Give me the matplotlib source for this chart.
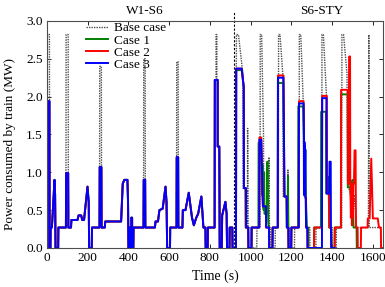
import matplotlib
matplotlib.use('Agg')
import matplotlib.pyplot as plt
from matplotlib.ticker import FormatStrFormatter

plt.rcParams['font.family'] = ['Liberation Serif', 'DejaVu Serif']

# ---------------- data (time in s, power in MW) ----------------
# W1-S6 section: all three cases coincide; base case differs only at the peaks
w1_time = [0, 2, 2, 12, 13, 17, 18, 24, 28, 37, 40, 42, 55, 56, 93, 94, 104, 105,
           118, 120, 150, 155, 168, 173, 182, 199, 205, 207, 220, 221, 258, 259, 267,
           268, 284, 286, 364, 372, 380, 395, 398, 400, 404, 404, 408, 408, 414, 414,
           418, 418, 424, 425, 474, 475, 482, 483, 530, 533, 545, 552, 568, 582, 587,
           590, 604, 605, 636, 637, 644, 645, 665, 667, 680, 696, 712, 721, 733, 742,
           758, 768, 778, 779, 789, 790, 823, 824, 830, 830, 834, 834, 838, 838, 846,
           848, 858, 860, 876, 882, 884, 896, 897, 910, 911]
w1_cases = [0, 0, 1.94, 1.94, 0, 0, 0.27, 0.27, 0.45, 0.90, 0.70, 0, 0, 0.27, 0.27, 0.99, 0.99, 0.27,
            0.27, 0.37, 0.37, 0.43, 0.43, 0.37, 0.37, 0.81, 0.60, 0, 0, 0.27, 0.27, 1.07, 1.07,
            0.27, 0.27, 0.35, 0.35, 0.85, 0.90, 0.90, 0.60, 0, 0, 0.27, 0.27, 0, 0, 0.40,
            0.40, 0, 0, 0.27, 0.27, 0.90, 0.90, 0.27, 0.27, 0.35, 0.35, 0.50, 0.52, 0.81, 0.60,
            0, 0, 0.27, 0.27, 1.20, 1.20, 0.27, 0.27, 0.50, 0.50, 0.73, 0.40, 0.30, 0.40, 0.45,
            0.68, 0.27, 0.27, 0, 0, 0.27, 0.27, 2.22, 2.22, 2.22, 2.22, 2.22, 2.22, 1.34, 1.34,
            0, 0, 0.43, 0.61, 0.45, 0, 0, 0.27, 0.27, 0]
w1_base = [0, 0, 2.82, 2.82, 0, 0, 0.27, 0.27, 0.45, 0.90, 0.70, 0, 0, 0.27, 0.27, 2.82, 2.82, 0.27,
           0.27, 0.37, 0.37, 0.43, 0.43, 0.37, 0.37, 0.81, 0.60, 0, 0, 0.27, 0.27, 2.40, 2.40,
           0.27, 0.27, 0.35, 0.35, 0.85, 0.90, 0.90, 0.60, 0, 0, 0.27, 0.27, 0, 0, 0.40,
           0.40, 0, 0, 0.27, 0.27, 2.50, 2.50, 0.27, 0.27, 0.35, 0.35, 0.50, 0.52, 0.81, 0.60,
           0, 0, 0.27, 0.27, 2.46, 2.46, 0.27, 0.27, 0.50, 0.50, 0.73, 0.40, 0.30, 0.40, 0.45,
           0.68, 0.27, 0.27, 0, 0, 0.27, 0.27, 2.22, 2.22, 2.82, 2.82, 2.22, 2.22, 1.34, 1.34,
           0, 0, 0.43, 0.61, 0.45, 0, 0, 0.27, 0.27, 0]

# S6-STY section
base_s6_time = [928, 930, 940, 962, 963, 975, 976, 984, 985, 987, 1002, 1003, 1030, 1031,
                1046, 1047, 1054, 1063, 1064, 1075, 1076, 1088, 1090, 1092, 1098, 1099, 1120,
                1121, 1136, 1137, 1144, 1158, 1160, 1176, 1177, 1181, 1183, 1185, 1190, 1191,
                1215, 1216, 1238, 1239, 1246, 1258, 1260, 1270, 1276, 1290, 1291, 1320, 1321,
                1349, 1350, 1357, 1372, 1374, 1385, 1386, 1400, 1401, 1420, 1421, 1447, 1448,
                1456, 1473, 1475, 1490, 1500, 1510, 1520, 1578, 1580, 1582, 1639, 1640, 1650]
base_s6_power = [0, 2.82, 2.82, 2.30, 0.79, 0.79, 0.27, 0.27, 1.58, 0.27, 0.27, 0, 0, 0.27,
                 0.27, 2.82, 2.82, 1.50, 0.55, 0.55, 0.27, 0.27, 1.20, 0.27, 0.27, 0, 0,
                 0.27, 0.27, 2.82, 2.82, 2.28, 0.68, 0.68, 0.27, 0.27, 1.03, 0.27, 0.27, 0,
                 0, 0.27, 0.27, 2.82, 2.82, 1.94, 0.70, 0.66, 0.27, 0.27, 0, 0, 0.27,
                 0.27, 2.82, 2.82, 2.01, 0.72, 0.72, 0.27, 0.27, 0, 0, 0.27, 0.27, 2.82,
                 2.82, 2.30, 0.88, 0.70, 0.30, 0.70, 0.27, 0.27, 2.82, 0.27, 0.27, 0, 0]

case1_s6_time = [928, 929, 956, 966, 967, 975, 976, 988, 989, 1004, 1005, 1038, 1039, 1050,
                 1056, 1058, 1060, 1064, 1066, 1068, 1080, 1082, 1086, 1090, 1091, 1107, 1108,
                 1133, 1134, 1160, 1165, 1176, 1177, 1181, 1183, 1186, 1199, 1200, 1233, 1234,
                 1258, 1261, 1265, 1268, 1271, 1276, 1283, 1284, 1311, 1312, 1345, 1346, 1370,
                 1371, 1380, 1382, 1386, 1395, 1396, 1412, 1413, 1443, 1444, 1476, 1477, 1490,
                 1495, 1500, 1505, 1520, 1521, 1535]
case1_s6_power = [0, 2.35, 2.35, 2.12, 0.79, 0.79, 0.27, 0.27, 0, 0, 0.27, 0.27, 1.39, 1.39,
                  0.70, 1.10, 0.60, 0.50, 1.00, 0.45, 0.45, 1.14, 0.35, 0.27, 0, 0, 0.27,
                  0.27, 2.18, 2.18, 0.68, 0.68, 0.27, 0.27, 0.95, 0, 0, 0.27, 0.27, 1.87,
                  1.87, 1.43, 0.70, 1.30, 0.66, 0.27, 0.27, 0, 0, 0.27, 0.27, 1.80, 1.80,
                  0.72, 0.72, 0.94, 0.27, 0.27, 0, 0, 0.27, 0.27, 2.03, 2.03, 0.80, 0.80,
                  0.60, 0.90, 0.27, 0.27, 0, 0]

case2_s6_time = [928, 929, 956, 966, 967, 975, 976, 988, 989, 1004, 1005, 1042, 1043, 1052,
                 1060, 1075, 1076, 1090, 1091, 1107, 1108, 1133, 1134, 1161, 1166, 1177, 1178,
                 1185, 1186, 1199, 1200, 1236, 1237, 1260, 1262, 1266, 1270, 1272, 1278, 1279,
                 1311, 1312, 1350, 1351, 1374, 1375, 1385, 1386, 1395, 1396, 1412, 1413, 1443,
                 1444, 1477, 1478, 1482, 1483, 1488, 1489, 1492, 1494, 1497, 1499, 1502, 1504,
                 1507, 1510, 1515, 1517, 1525, 1526, 1541, 1542, 1574, 1575, 1584, 1592, 1600,
                 1624, 1630, 1639, 1640, 1650]
case2_s6_power = [0, 2.37, 2.37, 2.13, 0.79, 0.79, 0.27, 0.27, 0, 0, 0.27, 0.27, 1.46, 1.46,
                  0.55, 0.55, 0.27, 0.27, 0, 0, 0.27, 0.27, 2.28, 2.28, 0.68, 0.68, 0.27,
                  0.27, 0, 0, 0.27, 0.27, 1.94, 1.94, 1.43, 0.70, 0.66, 0.27, 0.27, 0,
                  0, 0.27, 0.27, 2.01, 2.01, 0.72, 0.72, 0.27, 0.27, 0, 0, 0.27, 0.27,
                  2.09, 2.09, 0.85, 0.85, 2.53, 2.53, 0.85, 0.40, 0.85, 0.30, 0.85, 0.40, 0.85,
                  0.85, 1.29, 1.29, 0.27, 0.27, 0, 0, 0.27, 0.27, 0.39, 0.39, 1.18, 0.39,
                  0.39, 0.27, 0.27, 0, 0]

case3_s6_time = [928, 929, 956, 966, 967, 977, 978, 988, 989, 1004, 1005, 1042, 1043, 1052,
                 1060, 1075, 1076, 1090, 1091, 1107, 1108, 1133, 1134, 1161, 1166, 1177, 1178,
                 1185, 1186, 1199, 1200, 1236, 1237, 1260, 1262, 1263, 1264, 1265, 1266, 1267,
                 1268, 1269, 1271, 1272, 1278, 1279, 1350, 1351, 1372, 1373, 1386, 1387, 1393,
                 1394, 1396, 1412]
case3_s6_power = [0, 2.37, 2.37, 2.13, 0.79, 0.79, 0.27, 0.27, 0, 0, 0.27, 0.27, 1.43, 1.43,
                  0.55, 0.55, 0.27, 0.27, 0, 0, 0.27, 0.27, 2.25, 2.25, 0.68, 0.68, 0.27,
                  0.27, 0, 0, 0.27, 0.27, 1.91, 1.91, 1.43, 0.70, 1.40, 0.70, 1.35, 0.70,
                  1.30, 0.66, 0.66, 0.27, 0.27, 0, 0, 1.98, 1.98, 0.72, 0.72, 1.14, 1.14,
                  0.27, 0, 0]

series_labels = ['Base case', 'Case 1', 'Case 2', 'Case 3']
divider_time = 920
segment_labels = ['W1-S6', 'S6-STY']
segment_label_t = [478, 1348]
x_ticks = [0, 200, 400, 600, 800, 1000, 1200, 1400, 1600]
y_ticks = [0.0, 0.5, 1.0, 1.5, 2.0, 2.5, 3.0]

# ---------------- figure ----------------
fig = plt.figure(figsize=(3.85, 2.87), dpi=100)
ax = fig.add_axes([0.122, 0.136, 0.873, 0.791])

ax.plot(w1_time + base_s6_time, w1_base + base_s6_power, color='0.3',
        linestyle=(0, (1, 0.8)), lw=1.0, label=series_labels[0])
ax.plot(w1_time + case1_s6_time, w1_cases + case1_s6_power, color='#008000',
        lw=1.4, label=series_labels[1])
ax.plot(w1_time + case2_s6_time, w1_cases + case2_s6_power, color='#ff0000',
        lw=1.4, label=series_labels[2])
ax.plot(w1_time + case3_s6_time, w1_cases + case3_s6_power, color='#0000ff',
        lw=1.4, label=series_labels[3])

ax.plot([divider_time, divider_time], [0, 3.12], color='black', lw=0.8,
        linestyle=(0, (2, 1.5)), clip_on=False)

for lab, t in zip(segment_labels, segment_label_t):
    ax.text(t, 3.05, lab, ha='center', va='bottom', fontsize=9.5)

ax.set_xlim(0, 1650)
ax.set_ylim(0, 3.0)
ax.set_xticks(x_ticks)
ax.set_yticks(y_ticks)
ax.yaxis.set_major_formatter(FormatStrFormatter('%.1f'))
ax.tick_params(direction='in', top=True, right=True, length=3, width=0.6,
               labelsize=9.5, pad=3)
for sp in ax.spines.values():
    sp.set_linewidth(0.8)
    sp.set_color('0.3')

ax.set_xlabel('Time (s)', fontsize=10, labelpad=4)
ax.set_ylabel('Power consumed by train (MW)', fontsize=9.5)
ax.yaxis.set_label_coords(-0.093, 0.46)

ax.legend(loc='upper left', bbox_to_anchor=(0.092, 1.03), frameon=False,
          fontsize=9.5, handlelength=1.7, handletextpad=0.4, labelspacing=0.0,
          borderpad=0.1)

fig.savefig('out.png', dpi=100)
